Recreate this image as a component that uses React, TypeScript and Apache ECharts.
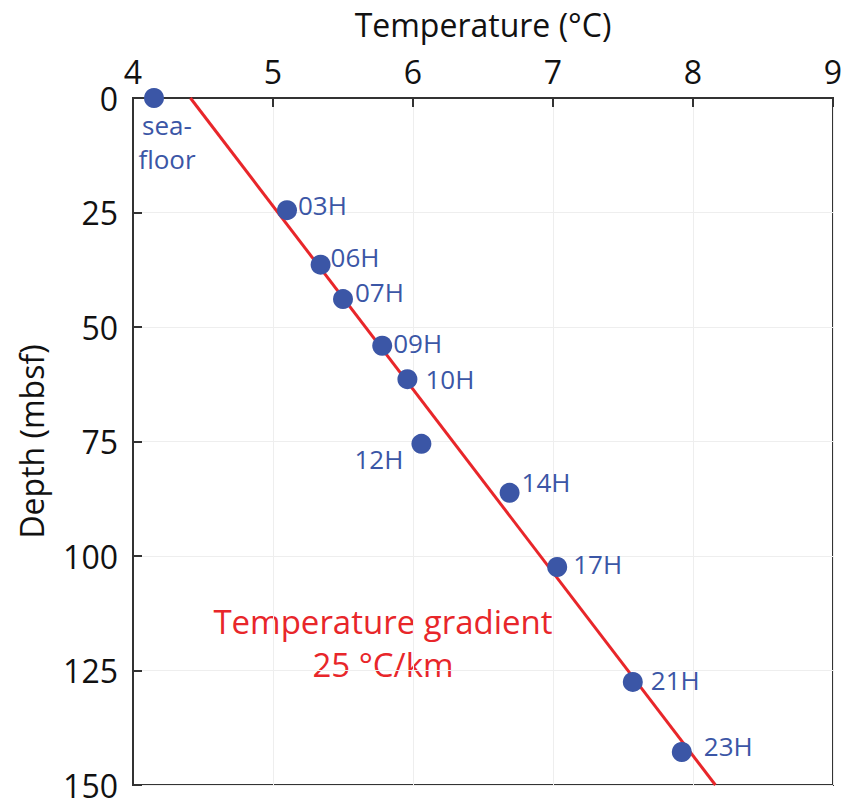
import React, { useEffect, useRef } from "react";
import * as echarts from "echarts";

const sampleNames = ["sea-\nfloor", "03H", "06H", "07H", "09H", "10H", "12H", "14H", "17H", "21H", "23H"];
const temperatures = [4.15, 5.1, 5.34, 5.5, 5.78, 5.96, 6.06, 6.69, 7.03, 7.57, 7.92];
const depths = [0, 24.5, 36.4, 43.9, 54.1, 61.4, 75.5, 86.2, 102.4, 127.5, 142.8];

const gradientDepths = [0, 150];
const gradientTemps = [4.41, 8.16];

const xTicks = [4, 5, 6, 7, 8, 9];
const yTicks = [0, 25, 50, 75, 100, 125, 150];

const labelPlacement: Record<string, { position: string; distance: number; offset: number[] }> = {
  "sea-\nfloor": { position: "bottom", distance: 0, offset: [13, 0] },
  "03H": { position: "right", distance: 1, offset: [0, -5] },
  "06H": { position: "right", distance: 0, offset: [0, -8] },
  "07H": { position: "right", distance: 2, offset: [0, -7] },
  "09H": { position: "right", distance: 1, offset: [0, -3] },
  "10H": { position: "right", distance: 8, offset: [0, 0] },
  "12H": { position: "left", distance: 8, offset: [0, 15] },
  "14H": { position: "right", distance: 2, offset: [0, -11] },
  "17H": { position: "right", distance: 6, offset: [0, -3] },
  "21H": { position: "right", distance: 8, offset: [0, -2] },
  "23H": { position: "right", distance: 12, offset: [0, -6] },
};

const FONT = "'Open Sans', 'Noto Sans', sans-serif";
const BLUE = "#3b56a6";
const RED = "#e8262a";
const INK = "#111";

export default function App() {
  const ref = useRef<HTMLDivElement>(null);
  useEffect(() => {
    if (!ref.current) return;
    const chart = echarts.init(ref.current, null, { renderer: "svg" });
    const points = sampleNames.map((n, i) => {
      const p = labelPlacement[n];
      return {
        name: n,
        value: [temperatures[i], depths[i]],
        label: {
          show: true,
          formatter: n,
          position: p.position,
          distance: p.distance,
          offset: p.offset,
          lineHeight: 34,
        },
      };
    });
    chart.setOption({
      animation: false,
      grid: {
        left: 133,
        top: 98,
        right: 16,
        bottom: 14,
        outerBoundsMode: "none",
        containLabel: false,
        show: true,
        borderColor: "#333",
        borderWidth: 2,
        backgroundColor: "transparent",
      },
      xAxis: {
        type: "value",
        position: "top",
        min: xTicks[0],
        max: xTicks[xTicks.length - 1],
        interval: 1,
        name: "Temperature (°C)",
        nameLocation: "middle",
        nameGap: 58,
        nameTextStyle: { fontFamily: FONT, fontSize: 32, color: INK },
        axisLine: { show: true, lineStyle: { color: "#333", width: 2 } },
        axisTick: { show: true, inside: true, length: 9, lineStyle: { color: "#333", width: 2 } },
        axisLabel: { fontFamily: FONT, fontSize: 32, color: INK, margin: 15, lineHeight: 24 },
        splitLine: { show: true, lineStyle: { color: "#eeeeee", width: 1 } },
      },
      yAxis: {
        type: "value",
        inverse: true,
        min: yTicks[0],
        max: yTicks[yTicks.length - 1],
        interval: 25,
        name: "Depth (mbsf)",
        nameLocation: "middle",
        nameGap: 86,
        nameTextStyle: { fontFamily: FONT, fontSize: 32, color: INK },
        axisLine: { show: true, lineStyle: { color: "#333", width: 2 } },
        axisTick: { show: true, inside: true, length: 9, lineStyle: { color: "#333", width: 2 } },
        axisLabel: { fontFamily: FONT, fontSize: 32, color: INK, margin: 15, lineHeight: 24 },
        splitLine: { show: true, lineStyle: { color: "#eeeeee", width: 1 } },
      },
      series: [
        {
          type: "line",
          data: gradientTemps.map((t, i) => [t, gradientDepths[i]]),
          symbol: "none",
          lineStyle: { color: RED, width: 3 },
          z: 2,
        },
        {
          type: "scatter",
          data: points,
          symbolSize: 20,
          itemStyle: { color: BLUE, opacity: 1 },
          label: { fontFamily: FONT, fontSize: 26, color: BLUE },
          z: 3,
        },
      ],
      graphic: [
        {
          type: "text",
          x: 383,
          y: 621,
          style: {
            text: "Temperature gradient",
            fontFamily: FONT,
            fontSize: 33,
            fill: RED,
            align: "center",
            verticalAlign: "middle",
          },
        },
        {
          type: "text",
          x: 383,
          y: 664,
          style: {
            text: "25 °C/km",
            fontFamily: FONT,
            fontSize: 33,
            fill: RED,
            align: "center",
            verticalAlign: "middle",
          },
        },
      ],
    });
    return () => chart.dispose();
  }, []);
  return <div ref={ref} style={{ width: 849, height: 799, position: "absolute", left: 0, top: 0 }} />;
}
